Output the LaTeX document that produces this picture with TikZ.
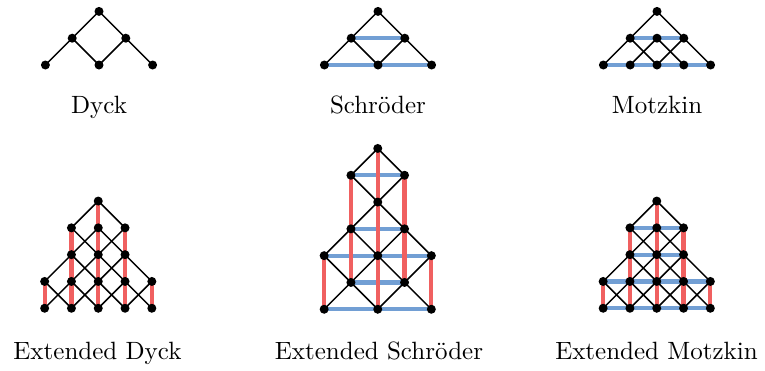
\documentclass[tikz,border=0pt]{standalone}
\pgfdeclarelayer{colr}
\pgfdeclarelayer{blkl}
\pgfsetlayers{colr,blkl,main}
\definecolor{myblue}{RGB}{114,159,212}
\definecolor{myred}{RGB}{240,96,96}
\tikzset{
  dot/.style={circle,fill=black,inner sep=0pt,minimum size=3.6pt},
  blk/.style={line width=0.6pt,black},
  bl/.style={line width=1.7pt,myblue},
  rd/.style={line width=1.7pt,myred},
  lbl/.style={anchor=base,inner sep=0pt}
}
\newcommand\mydots[2]{\foreach \i/\j in {#2}{\node[dot] (#1\i\j) at ({\i-2},\j) {};}}
\newcommand\myedges[4]{\begin{pgfonlayer}{#1}\foreach \a/\b in {#4}{\draw[#3] (#2\a.center) -- (#2\b.center);}\end{pgfonlayer}}
\begin{document}
\begin{tikzpicture}[x=10.72pt,y=10.72pt]
\useasboundingbox (0,0) rectangle (306pt,148pt);
% Dyck
\begin{scope}[shift={(39.6pt,122pt)}]
\mydots{A}{2/2,1/1,3/1,0/0,2/0,4/0}
\myedges{blkl}{A}{blk}{22/11,22/31,11/00,11/20,31/20,31/40}
\end{scope}
% Schroder
\begin{scope}[shift={(151.2pt,122pt)}]
\mydots{B}{2/2,1/1,3/1,0/0,2/0,4/0}
\myedges{blkl}{B}{blk}{22/11,22/31,11/00,11/20,31/20,31/40}
\myedges{colr}{B}{bl}{11/31,00/20,20/40}
\end{scope}
% Motzkin
\begin{scope}[shift={(262.8pt,122pt)}]
\mydots{C}{2/2,1/1,2/1,3/1,0/0,1/0,2/0,3/0,4/0}
\myedges{blkl}{C}{blk}{22/11,22/31,11/00,11/20,21/10,21/30,31/20,31/40}
\myedges{colr}{C}{bl}{11/21,21/31,00/10,10/20,20/30,30/40}
\end{scope}
% Extended Dyck
\begin{scope}[shift={(39.3pt,24.7pt)}]
\mydots{D}{2/4,1/3,2/3,3/3,1/2,2/2,3/2,0/1,1/1,2/1,3/1,4/1,0/0,1/0,2/0,3/0,4/0}
\myedges{blkl}{D}{blk}{24/13,24/33,13/22,23/12,23/32,33/22,12/01,12/21,22/11,22/31,32/21,32/41,01/10,11/00,11/20,21/10,21/30,31/20,31/40,41/30}
\myedges{colr}{D}{rd}{24/23,23/22,22/21,21/20,13/12,12/11,11/10,33/32,32/31,31/30,01/00,41/40}
\end{scope}
% Extended Schroder
\begin{scope}[shift={(151.1pt,24.3pt)}]
\mydots{E}{2/6,1/5,3/5,2/4,1/3,3/3,0/2,2/2,4/2,1/1,3/1,0/0,2/0,4/0}
\myedges{blkl}{E}{blk}{26/15,26/35,15/24,35/24,24/13,24/33,13/02,13/22,33/22,33/42,02/11,22/11,22/31,42/31,11/00,11/20,31/20,31/40}
\myedges{colr}{E}{bl}{15/35,13/33,02/22,22/42,11/31,00/20,20/40}
\myedges{colr}{E}{rd}{26/24,24/22,22/20,15/13,13/11,35/33,33/31,02/00,42/40}
\end{scope}
% Extended Motzkin
\begin{scope}[shift={(262.7pt,24.7pt)}]
\mydots{F}{2/4,1/3,2/3,3/3,1/2,2/2,3/2,0/1,1/1,2/1,3/1,4/1,0/0,1/0,2/0,3/0,4/0}
\myedges{blkl}{F}{blk}{24/13,24/33,13/22,23/12,23/32,33/22,12/01,12/21,22/11,22/31,32/21,32/41,01/10,11/00,11/20,21/10,21/30,31/20,31/40,41/30}
\myedges{colr}{F}{bl}{13/23,23/33,12/22,22/32,01/11,11/21,21/31,31/41,00/10,10/20,20/30,30/40}
\myedges{colr}{F}{rd}{24/23,23/22,22/21,21/20,13/12,12/11,11/10,33/32,32/31,31/30,01/00,41/40}
\end{scope}
% labels
\node[lbl] (l1) at (39.6pt,102.8pt) {Dyck};
\node[lbl] (l2) at (151.2pt,102.8pt) {Schr\"oder};
\node[lbl] (l3) at (262.8pt,102.8pt) {Motzkin};
\node[lbl] (l4) at (39pt,4.4pt) {Extended Dyck};
\node[lbl] (l5) at (151.6pt,4.4pt) {Extended Schr\"oder};
\node[lbl] (l6) at (262.6pt,4.4pt) {Extended Motzkin};
\end{tikzpicture}
\end{document}
